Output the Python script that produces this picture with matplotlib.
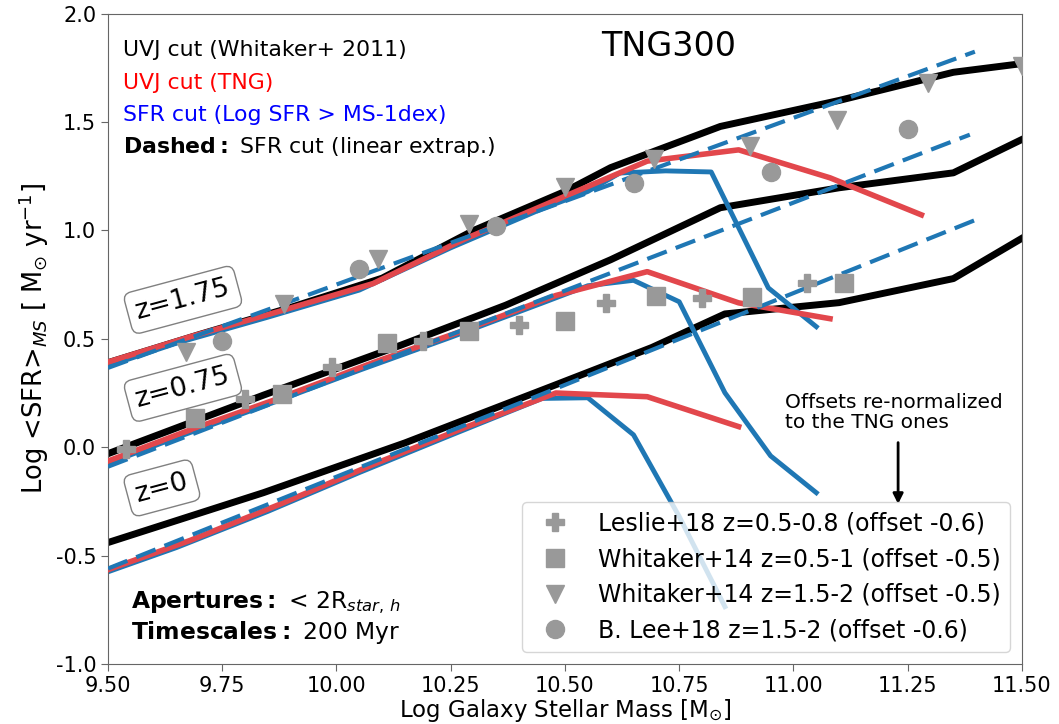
import matplotlib
matplotlib.use("Agg")
import matplotlib.pyplot as plt

# TNG300 star-forming main sequence at three redshifts
# z = 0
black0_x = [9.5, 9.84, 10.15, 10.47, 10.69, 10.85, 11.1, 11.35, 11.5]
black0_y = [-0.44, -0.21, 0.02, 0.28, 0.46, 0.615, 0.667, 0.778, 0.964]
red0_x = [9.48, 9.68, 9.88, 10.08, 10.28, 10.48, 10.68, 10.88]
red0_y = [-0.58, -0.43, -0.26, -0.08, 0.09, 0.25, 0.233, 0.095]
blue0_x = [9.5, 9.65, 9.85, 10.05, 10.25, 10.45, 10.55, 10.65, 10.75, 10.85]
blue0_y = [-0.575, -0.463, -0.296, -0.117, 0.055, 0.225, 0.228, 0.057, -0.32, -0.736]
dash0_x = [9.5, 11.4]
dash0_y = [-0.56, 1.05]

# z = 0.75
black1_x = [9.5, 9.84, 10.14, 10.37, 10.6, 10.84, 11.1, 11.35, 11.5]
black1_y = [-0.03, 0.24, 0.47, 0.655, 0.865, 1.105, 1.197, 1.266, 1.42]
red1_x = [9.48, 9.68, 9.88, 10.08, 10.28, 10.48, 10.68, 10.88, 11.08]
red1_y = [-0.08, 0.08, 0.23, 0.39, 0.54, 0.70, 0.81, 0.666, 0.593]
blue1_x = [9.5, 9.65, 9.85, 10.05, 10.25, 10.45, 10.55, 10.65, 10.75, 10.85, 10.95, 11.05]
blue1_y = [-0.075, 0.045, 0.197, 0.355, 0.507, 0.665, 0.745, 0.77, 0.671, 0.251, -0.04, -0.21]
dash1_x = [9.5, 11.386]
dash1_y = [-0.09, 1.442]

# z = 1.75
black2_x = [9.5, 9.7, 9.9, 10.1, 10.3, 10.5, 10.6, 10.84, 11.1, 11.35, 11.5]
black2_y = [0.39, 0.52, 0.645, 0.78, 1.0, 1.18, 1.29, 1.48, 1.60, 1.73, 1.77]
red2_x = [9.48, 9.68, 9.88, 10.08, 10.28, 10.48, 10.68, 10.88, 11.08, 11.28]
red2_y = [0.38, 0.51, 0.63, 0.755, 0.96, 1.14, 1.32, 1.372, 1.243, 1.072]
blue2_x = [9.5, 9.65, 9.85, 10.05, 10.25, 10.45, 10.55, 10.62, 10.72, 10.82, 10.945, 11.05]
blue2_y = [0.375, 0.48, 0.60, 0.725, 0.92, 1.10, 1.18, 1.265, 1.275, 1.27, 0.735, 0.556]
dash2_x = [9.5, 11.397]
dash2_y = [0.366, 1.825]

# observational points (already offset)
leslie_x = [9.54, 9.80, 9.99, 10.19, 10.40, 10.59, 10.80, 11.03]
leslie_y = [-0.007, 0.223, 0.372, 0.491, 0.562, 0.666, 0.689, 0.759]
whit_lo_x = [9.69, 9.88, 10.11, 10.29, 10.50, 10.70, 10.91, 11.11]
whit_lo_y = [0.136, 0.247, 0.482, 0.537, 0.58, 0.699, 0.695, 0.759]
whit_hi_x = [9.67, 9.885, 10.09, 10.29, 10.50, 10.695, 10.905, 11.095, 11.295, 11.5]
whit_hi_y = [0.44, 0.66, 0.87, 1.03, 1.20, 1.33, 1.39, 1.51, 1.68, 1.76]
lee_x = [9.75, 10.05, 10.35, 10.65, 10.95, 11.25]
lee_y = [0.49, 0.82, 1.02, 1.22, 1.27, 1.47]

xticks = [9.5, 9.75, 10.0, 10.25, 10.5, 10.75, 11.0, 11.25, 11.5]
yticks = [-1.0, -0.5, 0.0, 0.5, 1.0, 1.5, 2.0]

c_black = 'black'
c_red = '#e2474c'
c_blue = '#1f77b4'
c_grey = '#999999'

fig = plt.figure(figsize=(10.59, 7.24), dpi=100)
ax = fig.add_axes([0.102, 0.083, 0.863, 0.898])

groups = [(black0_x, black0_y, red0_x, red0_y, blue0_x, blue0_y, dash0_x, dash0_y),
          (black1_x, black1_y, red1_x, red1_y, blue1_x, blue1_y, dash1_x, dash1_y),
          (black2_x, black2_y, red2_x, red2_y, blue2_x, blue2_y, dash2_x, dash2_y)]
for bx, by, rx, ry, sx, sy, dx, dy in groups:
    ax.plot(bx, by, color=c_black, lw=5, zorder=1)
    ax.plot(sx, sy, color=c_blue, lw=3.5, zorder=2)
    ax.plot(rx, ry, color=c_red, lw=4, zorder=3)
    ax.plot(dx, dy, color=c_blue, lw=3, ls='--', dashes=(5, 2.3), zorder=4)

ms = 13
ax.plot(leslie_x, leslie_y, 'P', color=c_grey, ms=ms, ls='none', zorder=6,
        label='Leslie+18 z=0.5-0.8 (offset -0.6)')
ax.plot(whit_lo_x, whit_lo_y, 's', color=c_grey, ms=ms, ls='none', zorder=6,
        label='Whitaker+14 z=0.5-1 (offset -0.5)')
ax.plot(whit_hi_x, whit_hi_y, 'v', color=c_grey, ms=ms, ls='none', zorder=6,
        label='Whitaker+14 z=1.5-2 (offset -0.5)')
ax.plot(lee_x, lee_y, 'o', color=c_grey, ms=ms, ls='none', zorder=6,
        label='B. Lee+18 z=1.5-2 (offset -0.6)')

leg = ax.legend(loc='lower right', fontsize=17, numpoints=1, framealpha=0.8)

ax.set_xlim(9.5, 11.5)
ax.set_ylim(-1.0, 2.0)
ax.set_xticks(xticks)
ax.set_xticklabels(['%.2f' % v for v in xticks])
ax.set_yticks(yticks)
ax.set_yticklabels(['%.1f' % v for v in yticks])
ax.tick_params(labelsize=15, color='0.4', length=5)
for sp in ax.spines.values():
    sp.set_color('0.4')

ax.set_xlabel(r'Log Galaxy Stellar Mass [M$_{\odot}$]', fontsize=16.5, labelpad=1)
ax.set_ylabel(r'Log <SFR>$_{MS}$ [ M$_{\odot}$ yr$^{-1}$]', fontsize=18.5, labelpad=3)

tr = ax.transAxes
ax.text(0.0164, 0.945, 'UVJ cut (Whitaker+ 2011)', color='black', fontsize=15.8, va='center', transform=tr)
ax.text(0.0164, 0.894, 'UVJ cut (TNG)', color='red', fontsize=15.8, va='center', transform=tr)
ax.text(0.0164, 0.845, 'SFR cut (Log SFR > MS-1dex)', color='blue', fontsize=15.8, va='center', transform=tr)
ax.text(0.0164, 0.795, r'$\bf{Dashed:}$ SFR cut (linear extrap.)', fontsize=15.8, va='center', transform=tr)
ax.text(0.613, 0.949, 'TNG300', fontsize=24, ha='center', va='center', transform=tr)

ax.text(0.025, 0.095, r'$\bf{Apertures:}$ < 2R$_{star,\,h}$', fontsize=16.8, va='center', transform=tr)
ax.text(0.025, 0.048, r'$\bf{Timescales:}$ 200 Myr', fontsize=16.8, va='center', transform=tr)

box = dict(boxstyle='round', facecolor='white', edgecolor='0.5')
ax.text(9.664, 0.68, 'z=1.75', fontsize=19.5, rotation=15, ha='center', va='center', bbox=box, zorder=7)
ax.text(9.664, 0.274, 'z=0.75', fontsize=19.5, rotation=15, ha='center', va='center', bbox=box, zorder=7)
ax.text(9.618, -0.188, 'z=0', fontsize=19.5, rotation=15, ha='center', va='center', bbox=box, zorder=7)

ax.annotate('', xy=(11.229, -0.275), xytext=(11.229, 0.034),
            arrowprops=dict(arrowstyle='-|>', color='black', lw=2, mutation_scale=15))
ax.text(10.981, 0.159, 'Offsets re-normalized\nto the TNG ones', fontsize=14.5, ha='left', va='center',
        linespacing=1.05)

fig.savefig('out.png', dpi=100)
